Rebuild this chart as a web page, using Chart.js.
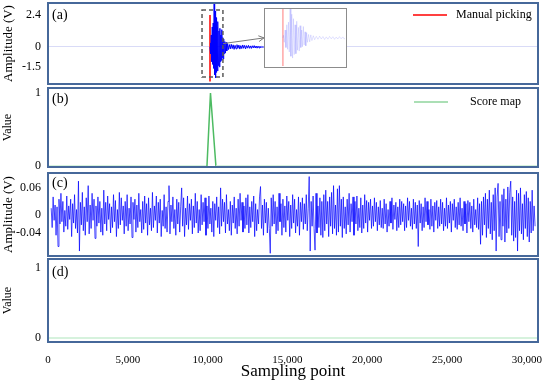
<!DOCTYPE html>
<html>
<head>
<meta charset="utf-8">
<script src="https://cdn.jsdelivr.net/npm/chart.js@4.4.1/dist/chart.umd.min.js"></script>
<style>
  body { margin: 0; background: #fff; }
  #wrap { position: relative; width: 550px; height: 383px; overflow: hidden; }
  .panel { position: absolute; left: 0; }
  #insetBox { position: absolute; left: 264px; top: 8px; width: 83px; height: 60px;
              border: 1.5px solid #8c8c8c; box-sizing: border-box; background: #fff; }
  #insetBox canvas { display: block; }
</style>
</head>
<body>
<div id="wrap">
  <canvas id="chartA" class="panel" width="550" height="87" style="top:0px"></canvas>
  <canvas id="chartB" class="panel" width="550" height="85" style="top:85px"></canvas>
  <canvas id="chartC" class="panel" width="550" height="89" style="top:170px"></canvas>
  <canvas id="chartD" class="panel" width="550" height="127" style="top:256px"></canvas>
  <div id="insetBox"><canvas id="inset" width="80" height="57"></canvas></div>
</div>
<script>
// x axis (sampling points)
const xMax = 30700;
const xTicks = [0, 5000, 10000, 15000, 20000, 25000, 30000];

// (a) seismic waveform + manual pick
const waveX = [10150, 10170, 10200, 10230, 10260, 10290, 10320, 10350, 10380, 10410,
               10440, 10470, 10500, 10530, 10560, 10590, 10620, 10650, 10680, 10710,
               10740, 10770, 10800, 10830, 10860, 10890, 10920, 10950, 10980, 11010,
               11040, 11080, 11120, 11160, 11200, 11250, 11300, 11360, 11420, 11480,
               11540, 11600, 11660, 11720, 11780, 11840, 11900, 11960, 12020, 12080,
               12140, 12200, 12260, 12320, 12380, 12440, 12500, 12560, 12620, 12680,
               12740, 12800, 12860, 12920, 12980, 13040, 13100, 13160, 13220, 13280,
               13340, 13400, 13460, 13520];
const waveY = [0, 0.3, -0.5, 0.9, -1.1, 1.5, -1.3, 1.8, -1.6, 3.3,
               -2.1, 2.7, -2.3, 2.2, -1.9, 1.5, -1.8, 1.9, -1.4, 1.2,
               -1.5, 1.4, -1.1, 0.9, -1.0, 1.3, -0.8, 0.7, -0.9, 0.6,
               -0.5, 0.4, -0.45, 0.35, -0.3, 0.25, -0.2, 0.18, -0.15, 0.2,
               -0.12, 0.16, -0.18, 0.12, -0.14, 0.17, -0.1, 0.14, -0.16, 0.1,
               -0.12, 0.15, -0.1, 0.12, -0.14, 0.1, -0.09, 0.12, -0.1, 0.08,
               -0.11, 0.09, -0.07, 0.1, -0.08, 0.07, -0.09, 0.06, -0.07, 0.05,
               -0.06, 0.04, -0.03, 0];
const pickX = [10150, 10150];
const pickY = [2.4, -2.6];
const ampTicksA = [-1.5, 0, 2.4];

// (b) score map, (d) score map of noise
const scoreX = [0, 9960, 10180, 10520, xMax];
const scoreY = [0, 0, 1, 0, 0];
const scoreDX = [0, xMax];
const scoreDY = [0, 0];
const valueTicks = [0, 1];

// (c) noise record, in mV, one value every noiseStep samples from noiseStart
const noiseStart = 200;
const noiseStep = 61;
const noiseMv = [
  15, -28, 40, -12, 22, -45, 18, -70, 35, -20, 48, -15, 30, -38, 10, -25, 42, -32, 20, -10,
  35, -48, 25, -18, 45, -30, 12, -40, 75, -80, 28, -22, 50, -35, 18, -45, 38, -15, 65, -42,
  22, -30, 48, -12, 35, -52, 20, -25, 40, -18, 30, -38, 15, -45, 55, -20, 28, -35, 42, -10,
  25, -40, 18, -28, 45, -15, 32, -48, 12, -30, 50, -22, 38, -12, 20, -42, 30, -25, 45, -35,
  15, -20, 40, -50, 28, -10, 35, -38, 22, -28, 48, -15, 12, -40, 30, -32, 42, -18, 25, -45,
  38, -22, 15, -35, 50, -28, 20, -12, 42, -40, 28, -18, 35, -48, 10, -25, 45, -30, 18, -38,
  30, 65, -42, 22, -15, 40, -30, 12, -45, 35, -20, 28, -38, 18, 60, -25, 38, -48, 15, -22,
  42, -32, 25, -12, 35, -42, 20, -28, 48, -18, 30, -40, 12, -35, 45, -22, 28, -15, 38, -45,
  20, -30, 42, -20, 15, -38, 30, -48, 25, -12, 40, -28, 18, -42, 60, -25, 35, -15, 28, -40,
  45, -20, 12, -35, 30, -45, 22, -18, 40, -30, 15, -42, 35, -25, 48, -12, 28, -38, 20, -30,
  38, -22, 45, -40, 18, -28, 30, -15, 42, -48, 25, -35, 12, -20, 40, 63, -30, 22, -45, 35,
  -18, 28, -40, 15, -30, -85, 38, -25, 45, -20, 30, -42, 18, -35, 48, -15, 25, -45, 35, -28,
  20, -38, 42, -12, 30, -48, 22, -30, 45, -18, 35, -40, 12, -25, 40, -45, 28, -15, 38, -32,
  25, -20, 45, -35, 15, 85, -80, 30, -25, 42, -30, -78, 48, -40, 20, -28, 38, -45, 30, -50,
  45, -35, 55, -20, 30, -48, 40, -25, 50, -42, 65, -30, 22, -45, 58, -38, 65, -25, 35, -50,
  40, -30, 18, -42, 35, -22, 48, -38, 25, -15, 40, -45, 30, -20, 42, -35, 15, -28, 38, -40,
  22, -30, 45, -18, 32, -38, 28, -12, 35, -30, 20, -25, 38, -15, 28, -35, 18, -22, 32, -28,
  15, -30, 35, -20, 25, -38, 12, -25, 30, -18, 38, -32, 22, -10, 28, -35, 18, -28, 35, -22,
  30, -15, 25, -35, 20, -28, 38, -12, 30, -25, 15, -32, 35, -20, 28, -30, 22, -70, 32, -18,
  25, -35, 18, -28, 38, -15, 30, -22, 12, -32, 35, -25, 20, -38, 28, -12, 32, -30, 18, -25,
  35, -20, 28, -35, 15, -25, 38, -30, 22, -18, 30, -38, 25, -12, 35, -28, 18, -32, 28, -22,
  38, -25, 15, -35, 30, -20, 25, -40, 32, -15, 28, -30, 20, -38, 35, -22, 12, -28, 38, -32,
  25, -65, 30, -45, 40, -22, 48, -50, 35, -30, 55, -42, 28, -55, 45, -35, 60, -80, 40, 70,
  -48, 30, -55, 45, -25, 58, -60, 35, -40, 62, -30, 50, 75, -45, 40, -58, 30, -50, 55, -80,
  48, -35, 60, -42, 25, -55, 45, -30, 52, -48, 38, -60, 30, -40, 55, -35, 20, -25
];
const ampTicksC = [-0.04, 0, 0.06];

Chart.defaults.font.family = "'Liberation Serif', 'Times New Roman', serif";
Chart.defaults.color = '#000';

const toPoints = (xs, ys) => xs.map((x, i) => ({ x: x, y: ys[i] }));

// box round the chart area of every panel
const framePlugin = {
  id: 'frame',
  afterDraw(chart) {
    const { ctx, chartArea: a } = chart;
    ctx.save();
    ctx.strokeStyle = '#46689a';
    ctx.lineWidth = 2;
    ctx.strokeRect(a.left, a.top, a.right - a.left, a.bottom - a.top);
    ctx.restore();
  }
};

// "(a)", "(b)" ... in the top left corner
const tagPlugin = {
  id: 'tag',
  afterDraw(chart, args, o) {
    if (!o.text) return;
    const { ctx, chartArea: a } = chart;
    ctx.save();
    ctx.font = "14px 'Liberation Serif'";
    ctx.fillStyle = '#000';
    ctx.textBaseline = 'middle';
    ctx.fillText(o.text, a.left + 4, a.top + o.dy);
    ctx.restore();
  }
};

// one line legend entry inside the plot
const lineLegend = {
  id: 'lineLegend',
  afterDraw(chart, args, o) {
    if (o.dataset === undefined) return;
    const { ctx, chartArea: a } = chart;
    const ds = chart.data.datasets[o.dataset];
    const y = a.top + o.dy;
    ctx.save();
    ctx.strokeStyle = o.color || ds.borderColor;
    ctx.lineWidth = 1.5;
    ctx.beginPath();
    ctx.moveTo(a.right - o.lineRight, y);
    ctx.lineTo(a.right - o.lineRight + 34, y);
    ctx.stroke();
    ctx.font = "12px 'Liberation Serif'";
    ctx.fillStyle = '#000';
    ctx.textBaseline = 'middle';
    ctx.fillText(ds.label, a.right - o.textRight, y);
    ctx.restore();
  }
};

// dashed box round the first arrival and arrow to the inset
const zoomMark = {
  id: 'zoomMark',
  afterDatasetsDraw(chart, args, o) {
    if (!o.box) return;
    const { ctx } = chart;
    const xs = chart.scales.x, ys = chart.scales.y;
    const x0 = xs.getPixelForValue(o.box[0]), x1 = xs.getPixelForValue(o.box[1]);
    const y0 = ys.getPixelForValue(o.box[3]), y1 = ys.getPixelForValue(o.box[2]);
    ctx.save();
    ctx.strokeStyle = '#5a5a5a';
    ctx.lineWidth = 1.5;
    ctx.setLineDash([4, 3]);
    ctx.strokeRect(x0, y0, x1 - x0, y1 - y0);
    ctx.setLineDash([]);
    const ax0 = xs.getPixelForValue(o.arrow[0]), ay0 = ys.getPixelForValue(o.arrow[1]);
    const ax1 = xs.getPixelForValue(o.arrow[2]), ay1 = ys.getPixelForValue(o.arrow[3]);
    ctx.strokeStyle = '#7a7a7a';
    ctx.lineWidth = 1;
    ctx.beginPath();
    ctx.moveTo(ax0, ay0);
    ctx.lineTo(ax1, ay1);
    const ang = Math.atan2(ay1 - ay0, ax1 - ax0);
    ctx.moveTo(ax1 - 6 * Math.cos(ang - 0.5), ay1 - 6 * Math.sin(ang - 0.5));
    ctx.lineTo(ax1, ay1);
    ctx.lineTo(ax1 - 6 * Math.cos(ang + 0.5), ay1 - 6 * Math.sin(ang + 0.5));
    ctx.stroke();
    ctx.restore();
  }
};

function yAxis(min, max, ticks, title, titleSize, zeroLine) {
  return {
    type: 'linear',
    min: min,
    max: max,
    afterBuildTicks: s => { s.ticks = ticks.map(v => ({ value: v })); },
    afterFit: s => { s.width = 48; s.paddingTop = 0; s.paddingBottom = 0; },
    border: { display: false },
    grid: {
      display: !!zeroLine,
      drawTicks: false,
      color: c => (c.tick && c.tick.value === 0) ? zeroLine : 'rgba(0,0,0,0)'
    },
    ticks: { padding: 7, font: { size: 12 }, color: '#000', callback: v => String(v) },
    title: { display: true, text: title, font: { size: titleSize }, color: '#000', padding: { top: 1, bottom: 0 } }
  };
}

const hiddenX = { type: 'linear', min: 0, max: xMax, display: false };

function baseOptions(pad) {
  return {
    responsive: false,
    animation: false,
    devicePixelRatio: 1,
    layout: { padding: pad },
    plugins: { legend: { display: false }, tooltip: { enabled: false } },
    elements: { point: { radius: 0 }, line: { tension: 0 } }
  };
}

// (a)
const optA = baseOptions({ top: 3, bottom: 3, left: 0, right: 12 });
optA.scales = { x: hiddenX, y: yAxis(-2.78, 3.3, ampTicksA, 'Amplitude (V)', 13, 'rgba(185,190,240,0.55)') };
optA.plugins.tag = { text: '(a)', dy: 12 };
optA.plugins.lineLegend = { dataset: 1, dy: 12, lineRight: 125, textRight: 82 };
optA.plugins.zoomMark = { box: [9650, 10960, -2.26, 2.78], arrow: [10960, 0.25, 13530, 0.68] };
new Chart(document.getElementById('chartA'), {
  type: 'line',
  data: {
    datasets: [
      { label: 'Waveform', data: toPoints(waveX, waveY), borderColor: '#0000ff', borderWidth: 1 },
      { label: 'Manual picking', data: toPoints(pickX, pickY), borderColor: '#ff0000', borderWidth: 1.5 }
    ]
  },
  options: optA,
  plugins: [framePlugin, tagPlugin, lineLegend, zoomMark]
});

// inset: same waveform, zoomed, faded
new Chart(document.getElementById('inset'), {
  type: 'line',
  data: {
    datasets: [
      { data: toPoints(waveX, waveY), borderColor: 'rgba(40,40,255,0.13)', borderWidth: 1 },
      { data: toPoints(pickX, [3.3, -3.2]), borderColor: 'rgba(255,0,0,0.2)', borderWidth: 1 }
    ]
  },
  options: Object.assign(baseOptions(0), {
    scales: {
      x: { type: 'linear', min: 9500, max: 12400, display: false },
      y: { type: 'linear', min: -3.2, max: 3.3, display: false }
    }
  })
});

// score map line: pale where it lies flat on zero
const scoreSegment = {
  borderColor: c => (c.p0.parsed.y === 0 && c.p1.parsed.y === 0) ? '#c9eed2' : '#4dbb62'
};

// (b)
const optB = baseOptions({ top: 3, bottom: 3, left: 0, right: 12 });
optB.scales = { x: hiddenX, y: yAxis(-0.014, 1.07, valueTicks, 'Value', 12) };
optB.plugins.tag = { text: '(b)', dy: 11 };
optB.plugins.lineLegend = { dataset: 0, dy: 14, lineRight: 124, textRight: 68, color: '#8fd49c' };
new Chart(document.getElementById('chartB'), {
  type: 'line',
  data: {
    datasets: [
      { label: 'Score map', data: toPoints(scoreX, scoreY), borderColor: '#4dbb62', borderWidth: 1.5, segment: scoreSegment }
    ]
  },
  options: optB,
  plugins: [framePlugin, tagPlugin, lineLegend]
});

// (c)
const optC = baseOptions({ top: 3, bottom: 3, left: 0, right: 12 });
optC.scales = { x: hiddenX, y: yAxis(-0.091, 0.093, ampTicksC, 'Amplitude (V)', 13) };
optC.plugins.tag = { text: '(c)', dy: 10 };
new Chart(document.getElementById('chartC'), {
  type: 'line',
  data: {
    datasets: [
      { label: 'Noise', data: noiseMv.map((v, i) => ({ x: noiseStart + i * noiseStep, y: v / 1000 })),
        borderColor: 'rgba(0,0,255,0.7)', borderWidth: 1 }
    ]
  },
  options: optC,
  plugins: [framePlugin, tagPlugin]
});

// (d)
const optD = baseOptions({ top: 3, bottom: 0, left: 0, right: 12 });
optD.scales = {
  x: {
    type: 'linear',
    min: 0,
    max: xMax,
    afterBuildTicks: s => { s.ticks = xTicks.map(v => ({ value: v })); },
    afterFit: s => { s.height = 41; s.paddingLeft = 0; s.paddingRight = 0; },
    border: { display: false },
    grid: { display: false },
    ticks: { padding: 4, font: { size: 11 }, color: '#000', maxRotation: 0, autoSkip: false,
             callback: v => v.toLocaleString('en-US') },
    title: { display: true, text: 'Sampling point', font: { size: 17 }, color: '#000', padding: { top: 0, bottom: 1 } }
  },
  y: yAxis(-0.057, 1.13, valueTicks, 'Value', 12)
};
optD.plugins.tag = { text: '(d)', dy: 13 };
new Chart(document.getElementById('chartD'), {
  type: 'line',
  data: {
    datasets: [
      { label: 'Score map', data: toPoints(scoreDX, scoreDY), borderColor: '#4dbb62', borderWidth: 1.5, segment: scoreSegment }
    ]
  },
  options: optD,
  plugins: [framePlugin, tagPlugin]
});
</script>
</body>
</html>
